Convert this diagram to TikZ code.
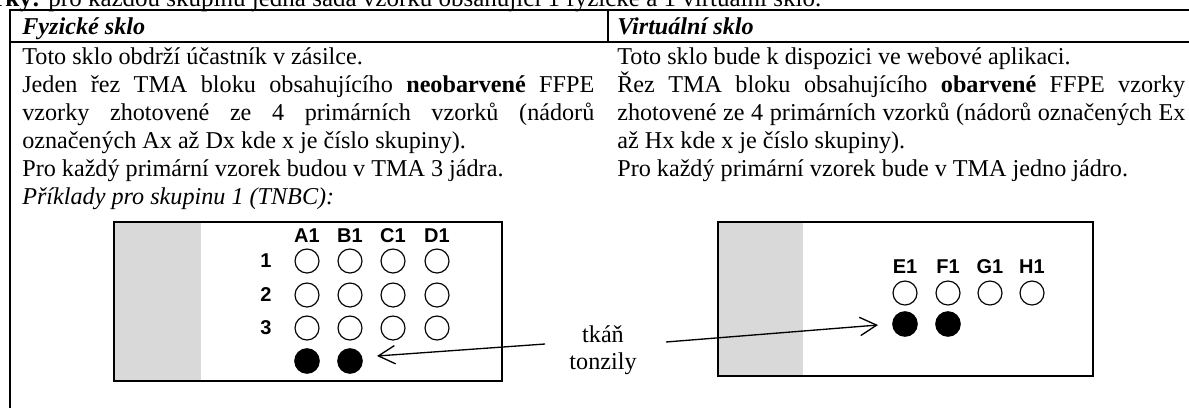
\documentclass[tikz,border=0pt]{standalone}
\usepackage{fontspec}
\setmainfont{Liberation Serif}
\newfontfamily\lblfont{Liberation Sans}
\usetikzlibrary{arrows.meta}
\begin{document}
\begin{tikzpicture}[x=0.6pt,y=-0.6pt,
  txt/.style={anchor=base west, inner sep=0pt, font=\fontsize{14.5pt}{16.7pt}\selectfont},
  toptxt/.style={anchor=base west, inner sep=0pt, font=\fontsize{15pt}{17.3pt}\selectfont},
  hdr/.style={anchor=base west, inner sep=0pt, font=\fontsize{14.5pt}{16.7pt}\selectfont\bfseries\itshape},
  ctxt/.style={anchor=base, inner sep=0pt, font=\fontsize{14.5pt}{16.7pt}\selectfont},
  lbl/.style={inner sep=0pt, font=\lblfont\fontsize{12pt}{14pt}\selectfont\bfseries},
  hole/.style={circle, draw, line width=0.7pt, minimum size=14.4pt, inner sep=0pt},
  core/.style={circle, fill=black, minimum size=15.4pt, inner sep=0pt},
  slide/.style={draw, line width=0.9pt},
  slidegrey/.style={fill={rgb,255:red,217;green,217;blue,217}},
  rule/.style={line width=1.3pt},
  pointer/.style={-{Straight Barb[length=10pt,width=11pt]}, line width=0.8pt}]
\clip (0,0) rectangle (1189,408);
\useasboundingbox (0,0) rectangle (1189,408);

% top line (cut)
\node[toptxt] (intro) at (-6,6) {\textbf{rky:} pro každou skupinu jedna sada vzorků obsahující 1 fyzické a 1 virtuální sklo.};

% table rules
\draw[rule] (10,10) -- (1189,10);
\draw[rule] (10,42) -- (1189,42);
\draw[rule] (10,9.3) -- (10,408);
\draw[rule] (608,10) -- (608,42);

% headers
\node[hdr] (h1) at (22,34) {Fyzické sklo};
\node[hdr] (h2) at (617,34) {Virtuální sklo};

% left column
\node[txt] (l1) at (22,64) {Toto sklo obdrží účastník v zásilce.};
\node[txt] (l2) at (22,92) {\makebox[343.2pt][s]{Jeden řez TMA bloku obsahujícího \textbf{neobarvené} FFPE}};
\node[txt] (l3) at (22,120) {\makebox[343.2pt][s]{vzorky zhotovené ze 4 primárních vzorků (nádorů}};
\node[txt] (l4) at (22,148) {označených Ax až Dx kde x je číslo skupiny).};
\node[txt] (l5) at (22,176) {Pro každý primární vzorek budou v TMA 3 jádra.};
\node[txt] (l6) at (22,204) {\itshape Příklady pro skupinu 1 (TNBC):};

% right column
\node[txt] (r1) at (617,64) {Toto sklo bude k dispozici ve webové aplikaci.};
\node[txt] (r2) at (617,92) {\makebox[340.8pt][s]{Řez TMA bloku obsahujícího \textbf{obarvené} FFPE vzorky}};
\node[txt] (r3) at (617,120) {\makebox[340.8pt][s]{zhotovené ze 4 primárních vzorků (nádorů označených Ex}};
\node[txt] (r4) at (617,148) {až Hx kde x je číslo skupiny).};
\node[txt] (r5) at (617,176) {Pro každý primární vzorek bude v TMA jedno jádro.};

% left slide
\fill[slidegrey] (114,222) rectangle (201,381);
\draw[slide] (114,222) rectangle (502,381);
\foreach \lab/\x in {A1/307,B1/350,C1/393,D1/437}{
  \node[lbl] (lab\lab) at (\x,236) {\lab};
  \foreach \r/\y in {1/261,2/295,3/328}{
    \node[hole] (hole\lab\r) at (\x,\y) {};
  }
}
\foreach \r/\y in {1/261,2/295,3/328}{
  \node[lbl] (row\r) at (266,\y) {\r};
}
\node[core] (coreA) at (307,361) {};
\node[core] (coreB) at (350,361) {};

% right slide
\fill[slidegrey] (718,222) rectangle (803,376);
\draw[slide] (718,222) rectangle (1093,376);
\foreach \lab/\x in {E1/905,F1/948,G1/990,H1/1032}{
  \node[lbl] (lab\lab) at (\x,267) {\lab};
  \node[hole] (hole\lab) at (\x,293) {};
}
\node[core] (coreE) at (905,324) {};
\node[core] (coreF) at (948,324) {};

% label and arrows
\node[ctxt] (tk1) at (603,342) {tkáň};
\node[ctxt] (tk2) at (603,369) {tonzily};
\coordinate (aL0) at (545,344);
\coordinate (aL1) at (377,356);
\coordinate (aR0) at (666,342);
\coordinate (aR1) at (878,325);
\draw[pointer] (aL0) -- (aL1);
\draw[pointer] (aR0) -- (aR1);
\end{tikzpicture}
\end{document}
